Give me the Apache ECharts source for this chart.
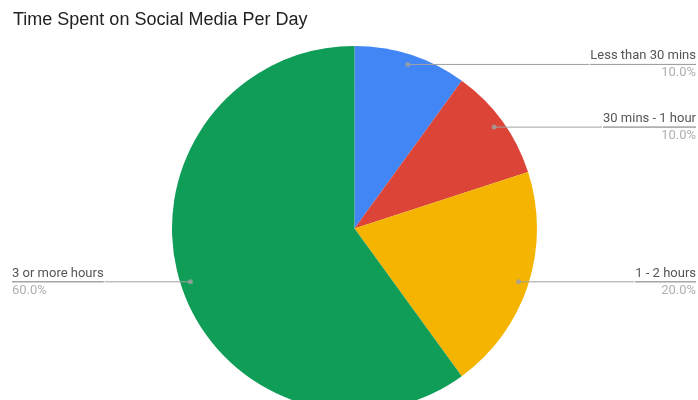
<!DOCTYPE html>
<html>
<head>
<meta charset="utf-8">
<script src="https://cdn.jsdelivr.net/npm/echarts@6/dist/echarts.min.js"></script>
<style>html,body{margin:0;padding:0;background:#fff;}#c{width:698px;height:400px;}</style>
</head>
<body>
<div id="c"></div>
<script>
const categories = ['Less than 30 mins', '30 mins - 1 hour', '1 - 2 hours', '3 or more hours'];
const values = [10, 10, 20, 60];
const colors = ['#4285F4', '#DB4437', '#F4B400', '#0F9D58'];

const data = categories.map((name, i) => ({ name: name, value: values[i], itemStyle: { color: colors[i] } }));
const ghostData = categories.map((name, i) => ({ name: name, value: values[i] }));

// label-line anchor dots: mid-angle of each slice (in value units), on the inner label radius
const total = values.reduce((a, b) => a + b, 0);
const PIE_R = 182.5, LABEL_R = 172.5;
let acc = 0;
const dotData = values.map(v => { const mid = acc + v / 2; acc += v; return [LABEL_R, mid]; });

const chart = echarts.init(document.getElementById('c'), null, { renderer: 'canvas' });
const TITLE_FONT = '"Liberation Sans", Arial, sans-serif';
const LABEL_FONT = 'Roboto, "Liberation Sans", Arial, sans-serif';
chart.setOption({
  animation: false,
  backgroundColor: '#ffffff',
  title: {
    text: 'Time Spent on Social Media Per Day',
    left: 8, top: 6,
    textStyle: { fontFamily: TITLE_FONT, fontSize: 18, fontWeight: 'normal', color: '#222222' }
  },
  polar: { center: [354.5, 228.5], radius: PIE_R },
  angleAxis: {
    type: 'value', min: 0, max: total, startAngle: 90, clockwise: true,
    axisLine: { show: false }, axisTick: { show: false }, axisLabel: { show: false }, splitLine: { show: false }
  },
  radiusAxis: {
    type: 'value', min: 0, max: PIE_R,
    axisLine: { show: false }, axisTick: { show: false }, axisLabel: { show: false }, splitLine: { show: false }
  },
  series: [
    {
      type: 'pie',
      left: 12, right: 2, top: 0, bottom: 0,
      center: [342.5, 228.5],
      radius: PIE_R,
      startAngle: 90,
      clockwise: true,
      silent: true,
      label: { show: false },
      labelLine: { show: false },
      itemStyle: { borderWidth: 0 },
      data: data
    },
    {
      type: 'pie',
      left: 12, right: 2, top: 0, bottom: 0,
      center: [342.5, 228.5],
      radius: LABEL_R,
      startAngle: 90,
      clockwise: true,
      silent: true,
      z: 3,
      itemStyle: { color: 'rgba(0,0,0,0)', borderWidth: 0 },
      label: {
        show: true,
        position: 'outside',
        alignTo: 'edge',
        edgeDistance: 0,
        distanceToLabelLine: 0,
        formatter: function (p) { return '{b|' + p.name + '}\n{hr|}\n{d|' + p.percent.toFixed(1) + '%}'; },
        rich: {
          b: { fontFamily: LABEL_FONT, fontSize: 13, color: '#555555', lineHeight: 17 },
          hr: { borderColor: '#a0a0a0', borderWidth: 1, width: '100%', height: 0, lineHeight: 0 },
          d: { fontFamily: LABEL_FONT, fontSize: 13, color: '#b0b0b0', lineHeight: 17 }
        }
      },
      labelLine: {
        show: true,
        length: 0,
        length2: 10,
        lineStyle: { color: '#a0a0a0', width: 1 }
      },
      data: ghostData
    },
    {
      type: 'scatter',
      coordinateSystem: 'polar',
      silent: true,
      z: 4,
      symbol: 'circle',
      symbolSize: 5,
      itemStyle: { color: '#a0a0a0' },
      data: dotData
    }
  ]
});
</script>
</body>
</html>
